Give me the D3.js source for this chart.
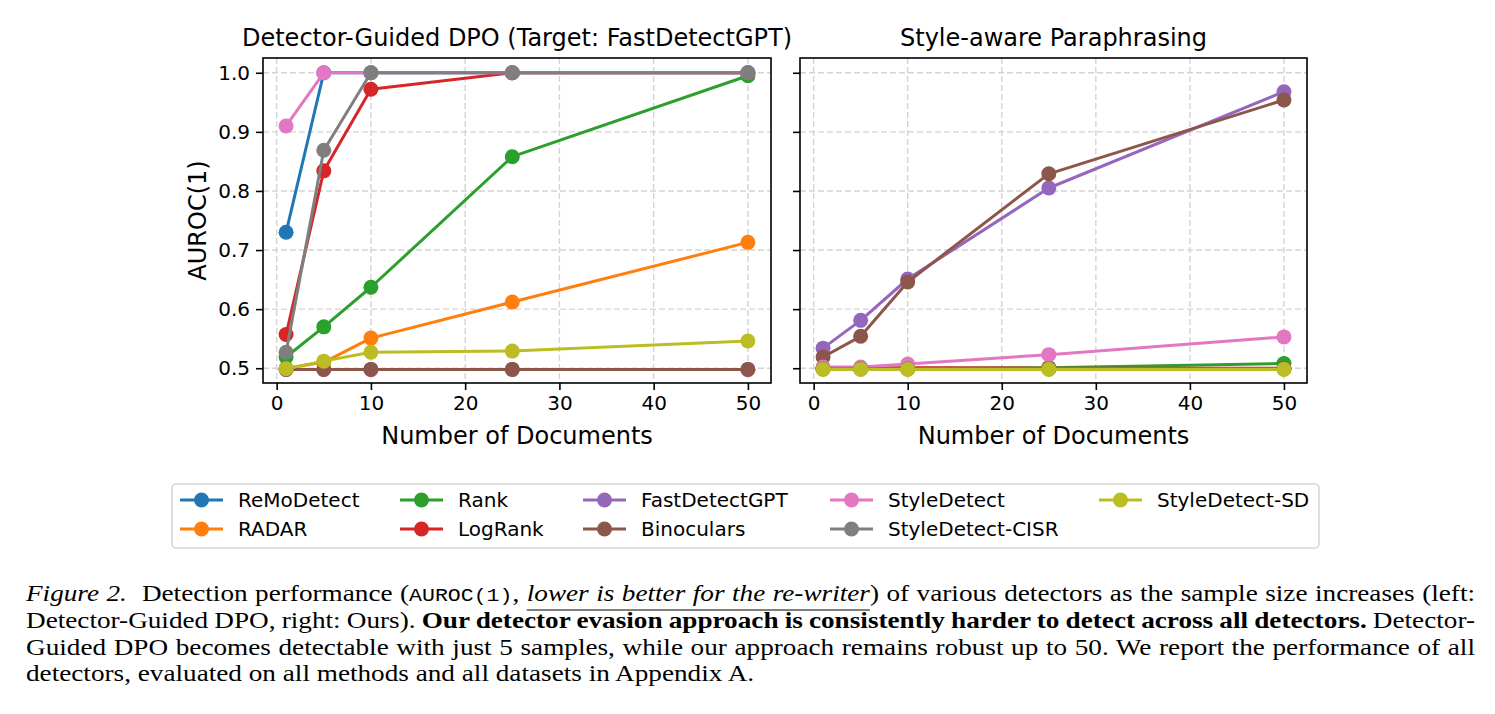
<!DOCTYPE html>
<html>
<head>
<meta charset="utf-8">
<script src="https://cdn.jsdelivr.net/npm/d3@7"></script>
<style>
  body { margin: 0; background: #fff; }
  svg { display: block; }
  .tick text { font-family: "DejaVu Sans", sans-serif; font-size: 20px; fill: #000; }
  .tick line { stroke: #000; stroke-width: 1.6px; }
  .grid line { stroke: #d4d4d4; stroke-width: 1.4px; stroke-dasharray: 6,3; }
  .label { font-family: "DejaVu Sans", sans-serif; font-size: 24px; fill: #000; }
  .caption { font-family: "Liberation Serif", "Times New Roman", serif; font-size: 24px; fill: #000; }
</style>
</head>
<body>
<svg id="fig" width="1495" height="714"></svg>
<script>
var docCounts = [1, 5, 10, 25, 50];
var detectors = ["ReMoDetect", "RADAR", "Rank", "LogRank", "FastDetectGPT",
    "Binoculars", "StyleDetect", "StyleDetect-CISR", "StyleDetect-SD"];
var palette = ["#1f77b4", "#ff7f0e", "#2ca02c", "#d62728", "#9467bd",
    "#8c564b", "#e377c2", "#7f7f7f", "#bcbd22"];

// AUROC(1), one row per detector (same order as detectors)
var dpoAuroc = [
    [0.730, 1.000, 1.000, 1.000, 1.000],
    [0.500, 0.510, 0.551, 0.612, 0.713],
    [0.519, 0.570, 0.637, 0.858, 0.995],
    [0.557, 0.834, 0.972, 1.000, 1.000],
    [0.498, 0.498, 0.498, 0.498, 0.498],
    [0.498, 0.498, 0.498, 0.498, 0.498],
    [0.910, 1.000, 1.000, 1.000, 1.000],
    [0.527, 0.869, 1.000, 1.000, 1.000],
    [0.499, 0.512, 0.527, 0.529, 0.546]
];
var paraAuroc = [
    [0.499, 0.499, 0.499, 0.499, 0.499],
    [0.499, 0.499, 0.499, 0.499, 0.499],
    [0.500, 0.500, 0.500, 0.501, 0.508],
    [0.500, 0.500, 0.501, 0.500, 0.500],
    [0.534, 0.581, 0.651, 0.805, 0.968],
    [0.519, 0.554, 0.646, 0.829, 0.954],
    [0.502, 0.502, 0.507, 0.523, 0.553],
    [0.499, 0.499, 0.499, 0.499, 0.499],
    [0.498, 0.498, 0.498, 0.498, 0.498]
];
var xTicks = [0, 10, 20, 30, 40, 50];
var yTicks = [0.5, 0.6, 0.7, 0.8, 0.9, 1.0];
var titles = ["Detector-Guided DPO (Target: FastDetectGPT)", "Style-aware Paraphrasing"];

var svg = d3.select("#fig");
var top_ = 58, bottom = 383;

var y = d3.scaleLinear().domain([0.475, 1.025]).range([bottom, top_]);

drawPanel(263, 771, dpoAuroc, titles[0], true);
drawPanel(800, 1307, paraAuroc, titles[1], false);
drawLegend();
drawCaption();

function drawPanel(x0, x1, rows, title, showYLabels) {
    var x = d3.scaleLinear().domain([-1.45, 52.45]).range([x0, x1]);
    var g = svg.append("g");

    // grid
    var grid = g.append("g").attr("class", "grid");
    grid.selectAll("line.v").data(xTicks).enter().append("line")
        .attr("x1", x).attr("x2", x).attr("y1", top_).attr("y2", bottom);
    grid.selectAll("line.h").data(yTicks).enter().append("line")
        .attr("x1", x0).attr("x2", x1).attr("y1", y).attr("y2", y);

    var line = d3.line()
        .x(function (d) { return x(d.n); })
        .y(function (d) { return y(d.v); });

    rows.forEach(function (vals, i) {
        var pts = docCounts.map(function (n, j) { return { n: n, v: vals[j] }; });
        var s = g.append("g");
        s.append("path")
            .attr("d", line(pts))
            .attr("fill", "none")
            .attr("stroke", palette[i])
            .attr("stroke-width", 3)
            .attr("stroke-linejoin", "round");
        s.selectAll("circle").data(pts).enter().append("circle")
            .attr("cx", function (d) { return x(d.n); })
            .attr("cy", function (d) { return y(d.v); })
            .attr("r", 7.5)
            .attr("fill", palette[i]);
    });

    // axes
    var xAxis = d3.axisBottom(x).tickValues(xTicks).tickSize(7).tickPadding(6).tickFormat(d3.format("d"));
    g.append("g").attr("transform", "translate(0," + bottom + ")").call(xAxis)
        .call(function (a) { a.select(".domain").remove(); });

    var yAxis = d3.axisLeft(y).tickValues(yTicks).tickSize(7).tickPadding(6).tickFormat(d3.format(".1f"));
    if (!showYLabels) yAxis.tickFormat("");
    g.append("g").attr("transform", "translate(" + x0 + ",0)").call(yAxis)
        .call(function (a) { a.select(".domain").remove(); });

    g.append("rect")
        .attr("x", x0).attr("y", top_)
        .attr("width", x1 - x0).attr("height", bottom - top_)
        .attr("fill", "none").attr("stroke", "#000").attr("stroke-width", 1.6);

    g.append("text").attr("class", "label")
        .attr("x", (x0 + x1) / 2).attr("y", 46)
        .style("text-anchor", "middle")
        .text(title);

    g.append("text").attr("class", "label")
        .attr("x", (x0 + x1) / 2).attr("y", 444)
        .style("text-anchor", "middle")
        .text("Number of Documents");

    if (showYLabels) {
        g.append("text").attr("class", "label")
            .attr("transform", "translate(206," + (top_ + bottom) / 2 + ") rotate(-90)")
            .style("text-anchor", "middle")
            .text("AUROC(1)");
    }
}

function drawLegend() {
    var lg = svg.append("g");
    lg.append("rect")
        .attr("x", 172).attr("y", 484).attr("width", 1147).attr("height", 64)
        .attr("rx", 4)
        .attr("fill", "#fff").attr("stroke", "#d6d6d6").attr("stroke-width", 1.6);

    var colX = [180, 400, 583, 830, 1099];
    var rowY = [500, 529];
    detectors.forEach(function (name, i) {
        var cx = colX[Math.floor(i / 2)], cy = rowY[i % 2];
        lg.append("line")
            .attr("x1", cx).attr("x2", cx + 43).attr("y1", cy).attr("y2", cy)
            .attr("stroke", palette[i]).attr("stroke-width", 3);
        lg.append("circle").attr("cx", cx + 21.5).attr("cy", cy).attr("r", 7.5).attr("fill", palette[i]);
        lg.append("text")
            .attr("x", cx + 58).attr("y", cy)
            .attr("dy", "0.35em")
            .style("font-family", "DejaVu Sans, sans-serif")
            .style("font-size", "20px")
            .text(name);
    });
}

function drawCaption() {
    // the caption type is a little wider than Liberation Serif, so stretch it horizontally
    var stretch = 1.134;
    var left = 26, right = 1475;
    var width = (right - left) / stretch;
    var cg = svg.append("g")
        .attr("transform", "translate(" + left + ",0) scale(" + stretch + ",1)");
    var lines = [
        [["Figure 2.", "italic"], ["  Detection performance (", ""], ["AUROC(1)", "mono"], [", ", ""],
         ["lower is better for the re-writer", "italic under"],
         [") of various detectors as the sample size increases (left:", ""]],
        [["Detector-Guided DPO, right: Ours). ", ""],
         ["Our detector evasion approach is consistently harder to detect across all detectors.", "bold"],
         [" Detector-", ""]],
        [["Guided DPO becomes detectable with just 5 samples, while our approach remains robust up to 50. We report the performance of all", ""]],
        [["detectors, evaluated on all methods and all datasets in Appendix A.", ""]]
    ];
    var baselines = [601, 628, 655, 681];

    lines.forEach(function (parts, li) {
        var t = cg.append("text").attr("class", "caption")
            .attr("x", 0).attr("y", baselines[li])
            .attr("xml:space", "preserve");
        var under = null;
        parts.forEach(function (p) {
            var ts = t.append("tspan").text(p[0]);
            if (p[1].indexOf("italic") >= 0) ts.style("font-style", "italic");
            if (p[1].indexOf("bold") >= 0) ts.style("font-weight", "bold");
            if (p[1].indexOf("mono") >= 0) ts.style("font-family", "Liberation Mono, monospace").style("font-size", "19px");
            if (p[1].indexOf("under") >= 0) under = ts;
        });
        if (li < 3) {
            var natural = t.node().getComputedTextLength();
            var spaces = (t.text().match(/ /g) || []).length;
            t.style("word-spacing", ((width - natural) / spaces) + "px");
        }
        if (under) {
            var n = under.node();
            var xa = n.getStartPositionOfChar(0).x;
            var xb = n.getEndPositionOfChar(n.getNumberOfChars() - 1).x;
            cg.append("line")
                .attr("x1", xa).attr("x2", xb)
                .attr("y1", baselines[li] + 9).attr("y2", baselines[li] + 9)
                .attr("stroke", "#000").attr("stroke-width", 1);
        }
    });
}
</script>
</body>
</html>
